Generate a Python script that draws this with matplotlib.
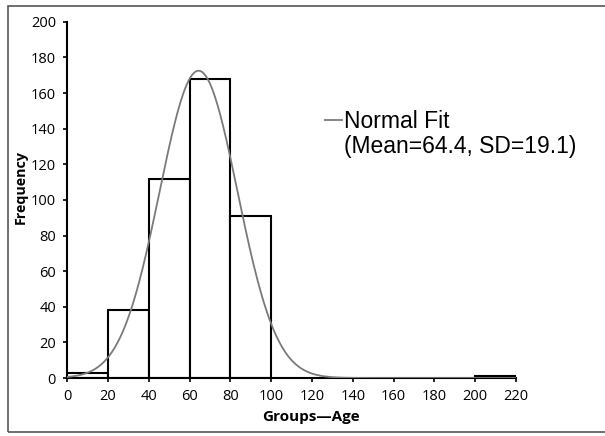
import numpy as np
import matplotlib.pyplot as plt
from matplotlib.patches import Rectangle
from matplotlib.lines import Line2D

# histogram of ages, 20-year groups
bin_left = [0, 20, 40, 60, 80, 200]
counts = [3, 38, 112, 168, 91, 1]
bin_width = 20

# normal fit parameters from the label
fit_mean = 64.4
fit_sd = 19.1

plt.rcParams['font.family'] = ['Open Sans', 'DejaVu Sans']

fig = plt.figure(figsize=(6.05, 4.36), dpi=100)
ax = fig.add_axes([0.111, 0.133, 0.742, 0.817])

# outer frame
fig.patches.append(Rectangle((0.013, 0.01), 1.2, 0.977, transform=fig.transFigure,
                             fill=False, edgecolor='#555555', linewidth=1.2))

ax.bar(bin_left, counts, width=bin_width, align='edge', facecolor='white',
       edgecolor='black', linewidth=1.5, zorder=2)

xs = np.linspace(0, 220, 500)
scale = sum(counts) * bin_width
ys = scale * np.exp(-0.5 * ((xs - fit_mean) / fit_sd) ** 2) / (fit_sd * np.sqrt(2 * np.pi))
ax.plot(xs, ys, color='#7a7a7a', linewidth=1.3, zorder=3)

ax.set_xlim(0, 220)
ax.set_ylim(0, 200)
ax.set_xticks(range(0, 221, 20))
ax.set_yticks(range(0, 201, 20))
ax.spines['top'].set_visible(False)
ax.spines['right'].set_visible(False)
ax.spines['left'].set_linewidth(1.5)
ax.spines['bottom'].set_linewidth(1.5)
ax.tick_params(direction='out', length=3, width=1.2, labelsize=10.5, pad=5)
ax.margins(0)

ax.set_xlabel('Groups\u2014Age', fontsize=11, fontweight='bold')
ax.set_ylabel('Frequency', fontsize=10.3, fontweight='bold')
ax.xaxis.set_label_coords(0.543, -0.09)
ax.yaxis.set_label_coords(-0.087, 0.537)

# fit legend
fig.lines.append(Line2D([325 / 605, 342 / 605], [1 - 120 / 436, 1 - 120 / 436],
                        transform=fig.transFigure, color='#7a7a7a', linewidth=1.3))
fig.text(344 / 605, 1 - 134 / 436, 'Normal Fit\n(Mean=64.4, SD=19.1)',
         family='Liberation Sans', fontsize=16.5, va='center', ha='left',
         linespacing=1.12, transform=fig.transFigure)

fig.savefig('out.png', dpi=100)
